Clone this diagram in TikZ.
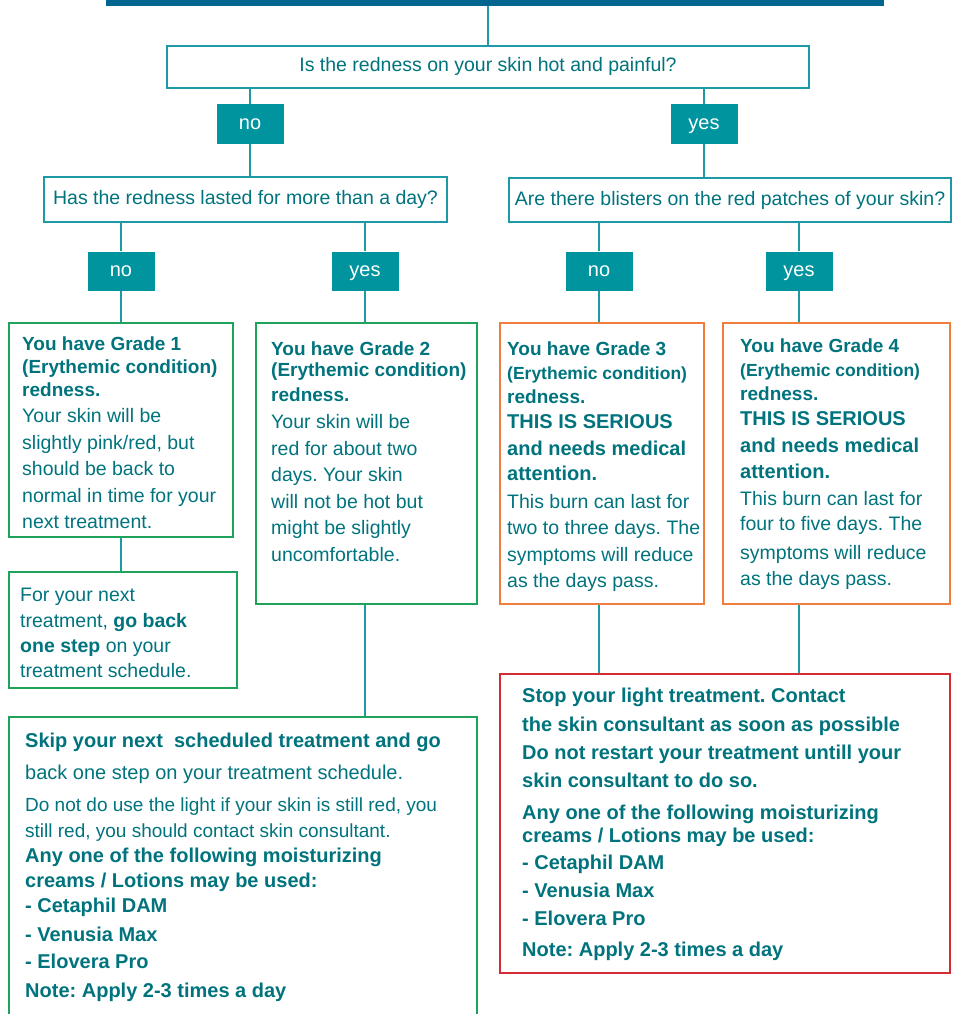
\documentclass[tikz,border=0pt]{standalone}
\usepackage{fontspec}
\setmainfont{Liberation Sans}
\usetikzlibrary{positioning,calc}

\definecolor{barblue}{HTML}{00668F}
\definecolor{tealline}{HTML}{1E9AA6}
\definecolor{tealfill}{HTML}{00949E}
\definecolor{tealtext}{HTML}{00737D}
\definecolor{gradegreen}{HTML}{1FA35A}
\definecolor{gradeorange}{HTML}{EE7D3E}
\definecolor{alertred}{HTML}{D52B35}

\tikzset{
  question/.style={draw=tealline, line width=2.2pt, text=tealtext, inner sep=0pt,
    text height=14pt, text depth=4pt, font=\fontsize{19.5}{24}\selectfont},
  answer/.style={fill=tealfill, text=white, minimum width=67pt, minimum height=39pt,
    inner sep=0pt, text height=14pt, text depth=4pt, font=\fontsize{20}{24}\selectfont},
  gradebox/.style={draw=#1, line width=2.2pt, inner sep=0pt},
  body/.style={text=tealtext, align=left, anchor=north west, inner sep=0pt,
    font=\fontsize{19.5}{26.5}\selectfont},
  link/.style={draw=tealline, line width=2pt},
}
\newcommand{\hd}[1]{{\fontsize{19}{24}\selectfont\bfseries #1}}
\newcommand{\hdsmall}[1]{{\fontsize{17.5}{24}\selectfont\bfseries #1}}
\frenchspacing

\begin{document}
\begin{tikzpicture}[x=1pt, y=-1pt]
        \useasboundingbox (0,0) rectangle (955,1014);

        % top bar and first question
        \node[fill=barblue, minimum width=778pt, minimum height=8pt, inner sep=0pt] (topbar) at (495,2) {};
        \node[question, minimum width=642pt, minimum height=42pt] (hotq) at (488,67) {Is the redness on your skin hot and painful?};
        \node[answer] (hotno) at (250,124) {no};
        \node[answer] (hotyes) at (704,124) {yes};

        % second level questions
        \node[question, minimum width=403pt, minimum height=45pt] (dayq) at (245.5,199.5) {Has the redness lasted for more than a day?};
        \node[question, minimum width=442pt, minimum height=44pt] (blisterq) at (730,200) {Are there blisters on the red patches of your skin?};
        \node[answer] (dayno) at (121,271) {no};
        \node[answer] (dayyes) at (365,271) {yes};
        \node[answer] (blisterno) at (599,271) {no};
        \node[answer] (blisteryes) at (799,271) {yes};

        % grade boxes
        \node[gradebox=gradegreen, minimum width=224pt, minimum height=214pt] (grade1) at (121,430) {};
        \node[gradebox=gradegreen, minimum width=228pt, minimum height=116pt] (stepback) at (123,630) {};
        \node[gradebox=gradegreen, minimum width=221pt, minimum height=281pt] (grade2) at (366.5,463.5) {};
        \node[gradebox=gradeorange, minimum width=204pt, minimum height=281pt] (grade3) at (602,463.5) {};
        \node[gradebox=gradeorange, minimum width=227pt, minimum height=281pt] (grade4) at (836.5,463.5) {};

        % advice boxes
        \node[gradebox=gradegreen, minimum width=468pt, minimum height=330pt] (skip) at (243,882) {};
        \node[gradebox=alertred, minimum width=450pt, minimum height=299pt] (stop) at (725,823.5) {};

        % connectors
        \draw[link] (hotq.north |- topbar.south) -- (hotq.north);
        \draw[link] (hotno.north |- hotq.south) -- (hotno.north);
        \draw[link] (hotyes.north |- hotq.south) -- (hotyes.north);
        \draw[link] (hotno.south) -- (hotno.south |- dayq.north);
        \draw[link] (hotyes.south) -- (hotyes.south |- blisterq.north);
        \draw[link] (dayno.north |- dayq.south) -- (dayno.north);
        \draw[link] (dayyes.north |- dayq.south) -- (dayyes.north);
        \draw[link] (blisterno.north |- blisterq.south) -- (blisterno.north);
        \draw[link] (blisteryes.north |- blisterq.south) -- (blisteryes.north);
        \draw[link] (dayno.south) -- (dayno.south |- grade1.north);
        \draw[link] (dayyes.south) -- (dayyes.south |- grade2.north);
        \draw[link] (blisterno.south) -- (blisterno.south |- grade3.north);
        \draw[link] (blisteryes.south) -- (blisteryes.south |- grade4.north);
        \draw[link] (dayno.south |- grade1.south) -- (dayno.south |- stepback.north);
        \draw[link] (dayyes.south |- grade2.south) -- (dayyes.south |- skip.north);
        \draw[link] (blisterno.south |- grade3.south) -- (blisterno.south |- stop.north);
        \draw[link] (blisteryes.south |- grade4.south) -- (blisteryes.south |- stop.north);

        % texts
        \node[body] (grade1txt) at (22,337) {\hd{You have Grade 1}\\[-4pt]
          \hd{(Erythemic condition)}\\[-3.5pt]
          \hd{redness.}\\
          Your skin will be\\ slightly pink/red, but\\ should be back to\\
          normal in time for your\\ next treatment.};
        \node[body] (stepbacktxt) at (20,588) {For your next\\[-1pt]
          treatment, \textbf{go back}\\[-1.5pt]
          \textbf{one step} on your\\[-1.5pt]
          treatment schedule.};
        \node[body] (grade2txt) at (271,342) {\hd{You have Grade 2}\\[-5.5pt]
          \hd{(Erythemic condition)}\\[-1.5pt]
          \hd{redness.}\\[0.5pt]
          Your skin will be\\ red for about two\\ days. Your skin\\
          will not be hot but\\ might be slightly\\ uncomfortable.};
        \node[body] (grade3txt) at (507,342) {\hd{You have Grade 3}\\[-2.5pt]
          \hdsmall{(Erythemic condition)}\\[-2.5pt]
          \hd{redness.}\\[-1.5pt]
          {\fontsize{20}{24}\selectfont\bfseries THIS IS SERIOUS}\\
          {\fontsize{20}{24}\selectfont\bfseries and needs medical}\\[-1.5pt]
          {\fontsize{20}{24}\selectfont\bfseries attention.}\\[1.5pt]
          This burn can last for\\ two to three days. The\\
          symptoms will reduce\\ as the days pass.};
        \node[body] (grade4txt) at (740,339) {\hd{You have Grade 4}\\[-2.5pt]
          \hdsmall{(Erythemic condition)}\\[-2.5pt]
          \hd{redness.}\\[-1.5pt]
          {\fontsize{20}{24}\selectfont\bfseries THIS IS SERIOUS}\\
          {\fontsize{20}{24}\selectfont\bfseries and needs medical}\\
          {\fontsize{20}{24}\selectfont\bfseries attention.}\\
          This burn can last for\\[-1.5pt] four to five days. The\\[2.5pt]
          symptoms will reduce\\ as the days pass.};
        \node[body, font=\fontsize{20}{26.5}\selectfont] (skiptxt) at (25,733) {\textbf{Skip your next\ \ scheduled treatment and go}\\[5.5pt]
          back one step on your treatment schedule.\\[5.5pt]
          {\fontsize{19}{24}\selectfont Do not do use the light if your skin is still red, you}\\[-0.5pt]
          {\fontsize{19}{24}\selectfont still red, you should contact skin consultant.}\\[-1.5pt]
          \textbf{Any one of the following moisturizing}\\[-1.5pt]
          \textbf{creams / Lotions may be used:}\\[-1.5pt]
          \textbf{- Cetaphil DAM}\\[2.5pt]
          \textbf{- Venusia Max}\\[0.5pt]
          \textbf{- Elovera Pro}\\[2.5pt]
          \textbf{Note: Apply 2-3 times a day}};
        \node[body, font=\fontsize{20}{26.5}\selectfont] (stoptxt) at (522,688) {\textbf{Stop your light treatment. Contact}\\[2.5pt]
          \textbf{the skin consultant as soon as possible}\\[1.5pt]
          \textbf{Do not restart your treatment untill your}\\[1.5pt]
          \textbf{skin consultant to do so.}\\[5.5pt]
          \textbf{Any one of the following moisturizing}\\[-3.5pt]
          \textbf{creams / Lotions may be used:}\\[0.5pt]
          \textbf{- Cetaphil DAM}\\[1.5pt]
          \textbf{- Venusia Max}\\[1.5pt]
          \textbf{- Elovera Pro}\\[4.5pt]
          \textbf{Note: Apply 2-3 times a day}};
    \end{tikzpicture}
\end{document}
